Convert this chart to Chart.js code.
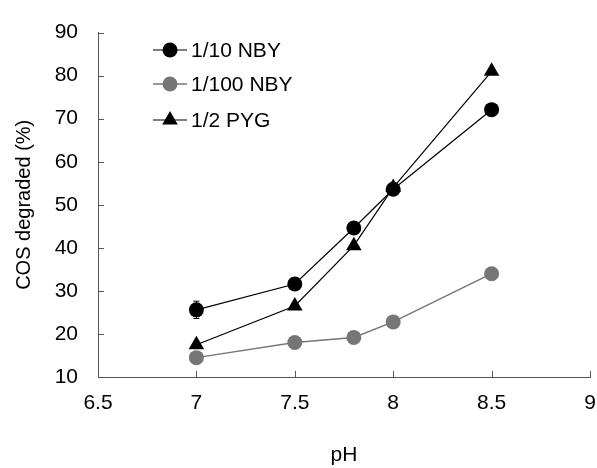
<!DOCTYPE html>
<html>
<head>
<meta charset="utf-8">
<script src="https://cdn.jsdelivr.net/npm/chart.js@4/dist/chart.umd.min.js"></script>
<style>
  html, body { margin: 0; padding: 0; background: #fff; }
  #wrap { width: 597px; height: 468px; }
</style>
</head>
<body>
<div id="wrap"><canvas id="myChart"></canvas></div>
<script>
const phValues = [7, 7.5, 7.8, 8, 8.5];
const nby10 = [25.6, 31.6, 44.6, 53.6, 72.1];
const nby10Err = [2, 0, 0, 0, 0];
const nby100 = [14.5, 18, 19.2, 22.8, 34];
const pyg2 = [17.5, 26.5, 40.5, 54, 81];
const seriesNames = ['1/10 NBY', '1/100 NBY', '1/2 PYG'];

const FONT = 'Arial, "Liberation Sans", sans-serif';
const GRAY = '#767676';
const AXIS = '#555';

function points(ys) {
    return phValues.map((x, i) => ({ x: x, y: ys[i] }));
}

const data = {
    datasets: [{
        label: seriesNames[0],
        data: points(nby10),
        borderColor: '#000',
        backgroundColor: '#000',
        borderWidth: 1.2,
        pointStyle: 'circle',
        pointRadius: 7.5,
        pointBorderWidth: 0
    }, {
        label: seriesNames[1],
        data: points(nby100),
        borderColor: GRAY,
        backgroundColor: GRAY,
        borderWidth: 1.5,
        pointStyle: 'circle',
        pointRadius: 7.5,
        pointBorderWidth: 0
    }, {
        label: seriesNames[2],
        data: points(pyg2),
        borderColor: '#000',
        backgroundColor: '#000',
        borderWidth: 1.2,
        pointStyle: 'triangle',
        pointRadius: 9,
        pointBorderWidth: 0
    }]
};

// tick marks drawn inside the plot, like the original
const innerTicks = {
    id: 'innerTicks',
    afterDraw(chart) {
        const ctx = chart.ctx;
        const x = chart.scales.x, y = chart.scales.y;
        const area = chart.chartArea;
        ctx.save();
        ctx.strokeStyle = AXIS;
        ctx.lineWidth = 1;
        ctx.beginPath();
        x.ticks.forEach(t => {
            const px = Math.round(x.getPixelForValue(t.value)) + 0.5;
            ctx.moveTo(px, area.bottom);
            ctx.lineTo(px, area.bottom - 6);
        });
        y.ticks.forEach(t => {
            const py = Math.round(y.getPixelForValue(t.value)) + 0.5;
            ctx.moveTo(area.left, py);
            ctx.lineTo(area.left + 6, py);
        });
        ctx.stroke();
        ctx.restore();
    }
};

const errorBars = {
    id: 'errorBars',
    afterDatasetsDraw(chart) {
        const ctx = chart.ctx;
        const x = chart.scales.x, y = chart.scales.y;
        ctx.save();
        ctx.strokeStyle = '#000';
        ctx.lineWidth = 1;
        ctx.beginPath();
        nby10Err.forEach((e, i) => {
            if (!e) return;
            const px = x.getPixelForValue(phValues[i]);
            const top = y.getPixelForValue(nby10[i] + e);
            const bot = y.getPixelForValue(nby10[i] - e);
            ctx.moveTo(px, top); ctx.lineTo(px, bot);
            ctx.moveTo(px - 3, top); ctx.lineTo(px + 3, top);
            ctx.moveTo(px - 3, bot); ctx.lineTo(px + 3, bot);
        });
        ctx.stroke();
        ctx.restore();
    }
};

// legend with a line through the marker
const lineLegend = {
    id: 'lineLegend',
    afterDraw(chart) {
        const ctx = chart.ctx;
        const rowY = [50, 84, 120];
        ctx.save();
        chart.data.datasets.forEach((ds, i) => {
            const yy = rowY[i];
            ctx.strokeStyle = ds.borderColor;
            ctx.lineWidth = ds.borderWidth;
            ctx.beginPath();
            ctx.moveTo(153, yy);
            ctx.lineTo(187, yy);
            ctx.stroke();
            ctx.fillStyle = ds.backgroundColor;
            Chart.helpers.drawPoint(ctx, {
                pointStyle: ds.pointStyle,
                radius: ds.pointRadius,
                borderWidth: 0,
                rotation: 0
            }, 170, yy);
            ctx.fillStyle = '#000';
            ctx.font = '21px ' + FONT;
            ctx.textBaseline = 'middle';
            ctx.textAlign = 'left';
            ctx.fillText(ds.label, 191, yy + 1);
        });
        ctx.restore();
    }
};

const config = {
    type: 'line',
    data: data,
    options: {
        responsive: true,
        maintainAspectRatio: false,
        animation: false,
        layout: {
            autoPadding: false,
            padding: { top: 21, right: 7, bottom: 0, left: 0 }
        },
        plugins: {
            legend: { display: false },
            tooltip: { enabled: false }
        },
        scales: {
            x: {
                type: 'linear',
                min: 6.5,
                max: 9,
                ticks: {
                    stepSize: 0.5,
                    color: '#000',
                    padding: 14,
                    font: { family: FONT, size: 21 },
                    maxRotation: 0,
                    callback: v => String(v)
                },
                grid: { display: false, drawTicks: false },
                border: { display: true, color: AXIS, width: 1 },
                title: {
                    display: true,
                    text: 'pH',
                    color: '#000',
                    font: { family: FONT, size: 21 },
                    padding: { top: 27, bottom: 0 }
                },
                afterFit(scale) {
                    scale.height = 91;
                    scale.paddingRight = 0;
                }
            },
            y: {
                min: 10,
                max: 90,
                ticks: {
                    stepSize: 10,
                    color: '#000',
                    padding: 20,
                    font: { family: FONT, size: 21 }
                },
                grid: { display: false, drawTicks: false },
                border: { display: true, color: AXIS, width: 1 },
                title: {
                    display: true,
                    text: 'COS degraded (%)',
                    color: '#000',
                    font: { family: FONT, size: 20 },
                    padding: { top: 12, bottom: 0 }
                },
                afterFit(scale) { scale.width = 98; }
            }
        }
    },
    plugins: [innerTicks, errorBars, lineLegend]
};

new Chart(document.getElementById('myChart'), config);
</script>
</body>
</html>
